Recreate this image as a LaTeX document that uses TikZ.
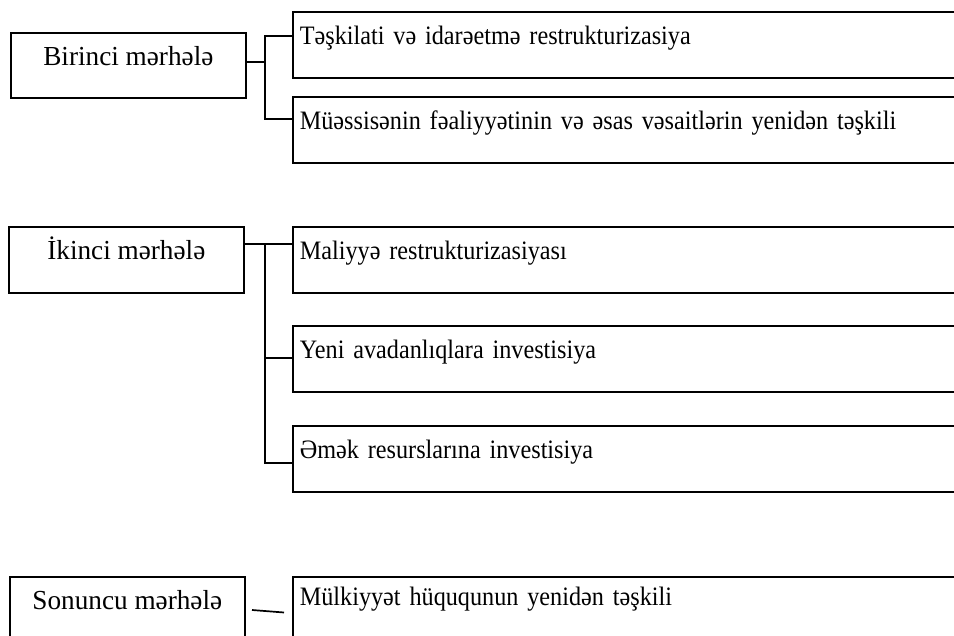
\documentclass[tikz,border=0pt]{standalone}
\usepackage{fontspec}
\setmainfont{Liberation Serif}
\newfontfamily\stagefont[FakeStretch=0.99]{Liberation Serif}
\newfontfamily\itemfont[FakeStretch=0.91]{Liberation Serif}
\usetikzlibrary{calc}
\begin{document}
\begin{tikzpicture}[x=1bp,y=-1bp,
  stage/.style={draw, line width=1.7bp, anchor=north west, minimum width=235bp,
    minimum height=65bp, inner sep=0pt, text height=17bp, text depth=17bp,
    font=\stagefont\fontsize{27.5bp}{32bp}\selectfont},
  item/.style={draw, line width=1.7bp, anchor=north west, minimum width=720bp,
    minimum height=66bp, inner xsep=7bp, inner ysep=0pt, text width=706bp,
    align=left, text height=17bp, text depth=17bp,
    font=\itemfont\fontsize{26.6bp}{31bp}\selectfont},
  link/.style={line width=1.7bp}]
\useasboundingbox (0,0) rectangle (954,636);
\clip (0,0) rectangle (954,636);

% stage boxes
\node[stage] (L1) at (10,32) {Birinci mərhələ};
\node[stage, minimum height=66bp] (L2) at (8,226) {İkinci mərhələ};
\node[stage, minimum height=68bp, text depth=19bp] (L3) at (9,576) {Sonuncu mərhələ};

% measure boxes
\node[item] (R1) at (292,11) {Təşkilati və idarəetmə restrukturizasiya};
\node[item] (R2) at (292,96) {Müəssisənin fəaliyyətinin və əsas vəsaitlərin yenidən təşkili};
\node[item] (R3) at (292,226) {Maliyyə restrukturizasiyası};
\node[item] (R4) at (292,325) {Yeni avadanlıqlara investisiya};
\node[item] (R5) at (292,425) {Əmək resurslarına investisiya};
\node[item, text height=13bp, text depth=21bp] (R6) at (292,576) {Mülkiyyət hüququnun yenidən təşkili};

% first stage bracket
\coordinate (j1) at (265,62);
\coordinate (j1a) at (265,36);
\coordinate (j1b) at (265,119);
\draw[link] (L1.east |- j1) -- (j1);
\draw[link] (R1.west |- j1a) -- (j1a) -- (j1b) -- (R2.west |- j1b);

% second stage bracket
\coordinate (j2) at (265,244);
\coordinate (j2a) at (265,358);
\coordinate (j2b) at (265,463);
\draw[link] (L2.east |- j2) -- (R3.west |- j2);
\draw[link] (j2) -- (j2b) -- (R5.west |- j2b);
\draw[link] (j2a) -- (R4.west |- j2a);

% final stage link
\coordinate (k1) at (252,610);
\coordinate (k2) at (284,612.5);
\draw[link] (k1) -- (k2);
\end{tikzpicture}
\end{document}
